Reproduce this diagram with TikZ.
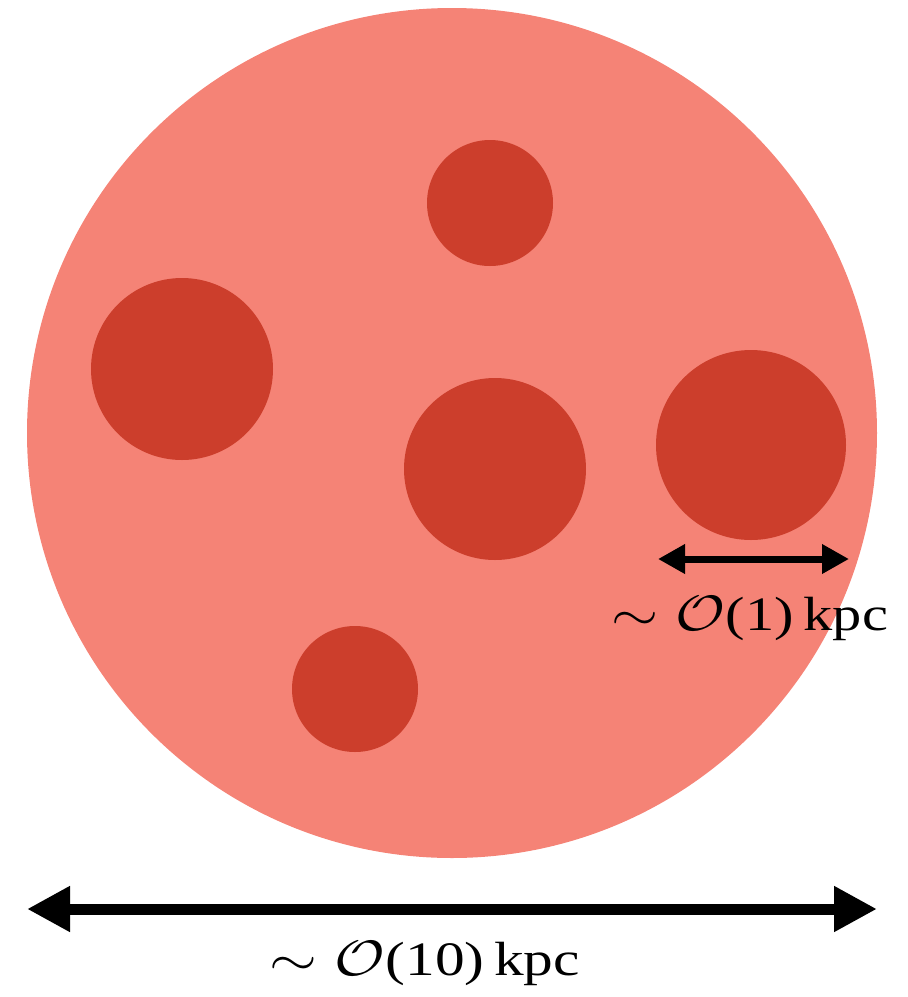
\documentclass[tikz,border=0pt]{standalone}
\usepackage{fontspec}
\setmainfont{Liberation Serif}
\usetikzlibrary{arrows.meta}
\definecolor{halo}{HTML}{F58376}
\definecolor{clump}{HTML}{CC3E2C}
\begin{document}
\begin{tikzpicture}[x=0.5pt,y=-0.5pt,
	blob/.style={circle,inner sep=0pt,fill=clump},
	lbl/.style={anchor=base,inner sep=0pt,font=\fontsize{24}{28}\selectfont}]
	\useasboundingbox (0,0) rectangle (908,997);
	\node[circle,inner sep=0pt,fill=halo,minimum size=425pt] (halo) at (452,433) {};
	\node[blob,minimum size=63pt] (c1) at (490,203) {};
	\node[blob,minimum size=91pt] (c2) at (182,369) {};
	\node[blob,minimum size=91pt] (c3) at (495,469) {};
	\node[blob,minimum size=95pt] (c4) at (751,445) {};
	\node[blob,minimum size=63pt] (c5) at (355,689) {};
	% scale bars
	\coordinate (sl) at (658,559); \coordinate (sr) at (849,559);
	\draw[line width=3.5pt,{Triangle[length=13.5pt,width=14pt]}-{Triangle[length=13.5pt,width=14pt]}] (sl)--(sr);
	\node[lbl] (small) at (750,630) {\resizebox{138pt}{\height}{$\sim\mathcal{O}$(1)\,kpc}};
	\coordinate (bl) at (27,909); \coordinate (br) at (877,909);
	\draw[line width=5.5pt,{Triangle[length=21.5pt,width=21.5pt]}-{Triangle[length=21.5pt,width=21.5pt]}] (bl)--(br);
	\node[lbl] (big) at (425,975) {\resizebox{155pt}{\height}{$\sim\mathcal{O}$(10)\,kpc}};
\end{tikzpicture}
\end{document}
